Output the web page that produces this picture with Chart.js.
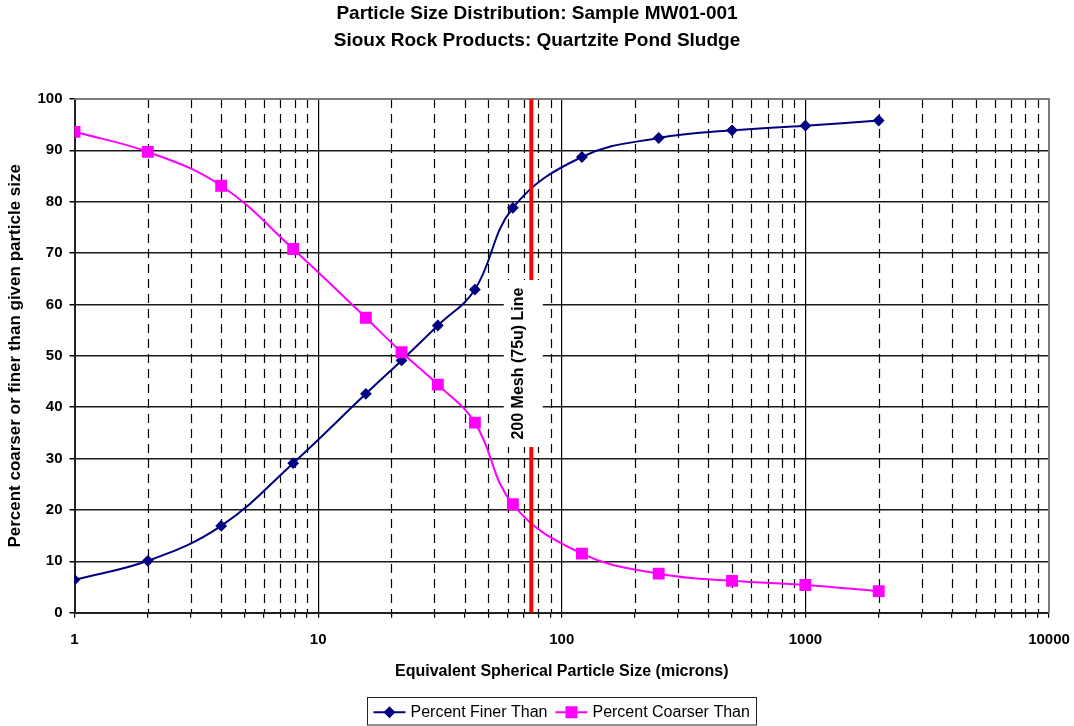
<!DOCTYPE html>
<html>
<head>
<meta charset="utf-8">
<script src="https://cdn.jsdelivr.net/npm/chart.js@4.4.1/dist/chart.umd.min.js"></script>
<style>
  html, body { margin: 0; padding: 0; background: #fff; }
  #wrap { width: 1074px; height: 726px; }
</style>
</head>
<body>
<div id="wrap"><canvas id="c" width="1074" height="726"></canvas></div>
<script>
// Sedigraph / sieve results for sample MW01-001
const titleLines = [
  'Particle Size Distribution: Sample MW01-001',
  'Sioux Rock Products: Quartzite Pond Sludge'
];
const particleSizes  = [1, 2, 4, 7.9, 15.7, 22, 31, 44, 63, 121, 250, 500, 1000, 2000];
const percentFiner   = [6.4, 10.1, 16.9, 29.1, 42.6, 49.1, 55.9, 62.9, 78.8, 88.7, 92.4, 93.9, 94.8, 95.8];
const percentCoarser = [93.6, 89.7, 83.1, 70.8, 57.4, 50.7, 44.4, 37.0, 21.1, 11.5, 7.6, 6.2, 5.4, 4.2];
const seriesNames = ['Percent Finer Than', 'Percent Coarser Than'];

// 200 mesh reference line
const meshSize = 75;
const meshRange = [0, 100];
const meshLabel = '200 Mesh (75u) Line';

// axes
const xTickLabels = ['1', '10', '100', '1000', '10000'];
const decadeTicks = xTickLabels.map(Number);
const yRange = [0, 100];
const yStep = 10;
const xTitle = 'Equivalent Spherical Particle Size (microns)';
const yTitle = 'Percent coarser or finer than given particle size';

const FONT = "'Liberation Sans', Arial, sans-serif";

// every 1..9 multiple inside each decade, plus the closing decade
const logGridValues = [];
for (let d = 0; d < decadeTicks.length - 1; d++) {
  for (let m = 1; m <= 9; m++) logGridValues.push(decadeTicks[d] * m);
}
logGridValues.push(decadeTicks[decadeTicks.length - 1]);

const toPoints = (ys) => particleSizes.map((s, i) => ({ x: s, y: ys[i] }));

const plotDecor = {
  id: 'plotDecor',
  beforeDatasetsDraw(chart) {
    const { ctx, chartArea: a, scales: { x } } = chart;
    ctx.save();
    // dashed minor verticals
    ctx.strokeStyle = '#000';
    ctx.lineWidth = 1.2;
    ctx.setLineDash([9, 6]);
    x.ticks.forEach(t => {
      if (decadeTicks.includes(t.value)) return;
      const px = Math.round(x.getPixelForValue(t.value)) + 0.5;
      ctx.beginPath();
      ctx.moveTo(px, a.top);
      ctx.lineTo(px, a.bottom);
      ctx.stroke();
    });
    ctx.setLineDash([]);
    // grey top and right frame
    ctx.strokeStyle = '#7a7a7a';
    ctx.lineWidth = 2;
    ctx.beginPath();
    ctx.moveTo(a.left, a.top);
    ctx.lineTo(a.right, a.top);
    ctx.lineTo(a.right, a.bottom);
    ctx.stroke();
    ctx.restore();
  },
  afterDatasetsDraw(chart) {
    const { ctx, scales: { x, y } } = chart;
    const px = x.getPixelForValue(meshSize);
    const cy = y.getPixelForValue(48.5);
    ctx.save();
    ctx.font = `bold 16px ${FONT}`;
    const w = ctx.measureText(meshLabel).width;
    const boxH = w + 15;
    ctx.fillStyle = '#fff';
    ctx.fillRect(px - 27.5, cy - boxH / 2, 39, boxH);
    ctx.translate(px - 12.5, cy);
    ctx.rotate(-Math.PI / 2);
    ctx.fillStyle = '#000';
    ctx.textAlign = 'center';
    ctx.textBaseline = 'middle';
    ctx.fillText(meshLabel, 0, 0);
    ctx.restore();
  },
  afterDraw(chart) {
    const { ctx, chartArea: a } = chart;
    const ds = chart.data.datasets.filter(d => d.inLegend);
    ctx.save();
    ctx.font = `16px ${FONT}`;
    const widths = ds.map(d => ctx.measureText(d.label).width);
    const lineLen = 32, padL = 6, padR = 7, gapText = 5, gapItem = 8;
    let total = padL + padR;
    widths.forEach((w, i) => { total += lineLen + gapText + w + (i ? gapItem : 0); });
    const cx = (a.left + a.right) / 2;
    const top = 697.5, h = 27.5;
    let xx = Math.round(cx - total / 2) + 0.5;
    ctx.fillStyle = '#fff';
    ctx.fillRect(xx, top, total, h);
    ctx.strokeStyle = '#222';
    ctx.lineWidth = 1;
    ctx.strokeRect(xx, top, Math.round(total), h);
    const my = top + h / 2 + 1;
    xx += padL;
    ds.forEach((d, i) => {
      if (i) xx += gapItem;
      ctx.strokeStyle = d.borderColor;
      ctx.lineWidth = d.borderWidth;
      ctx.beginPath();
      ctx.moveTo(xx, my);
      ctx.lineTo(xx + lineLen, my);
      ctx.stroke();
      ctx.fillStyle = d.pointBackgroundColor;
      ctx.strokeStyle = d.pointBorderColor;
      Chart.helpers.drawPoint(ctx, {
        pointStyle: d.pointStyle, radius: d.pointRadius, rotation: 0, borderWidth: 1
      }, xx + lineLen / 2, my);
      xx += lineLen + gapText;
      ctx.fillStyle = '#000';
      ctx.textAlign = 'left';
      ctx.textBaseline = 'middle';
      ctx.fillText(d.label, xx, my);
      xx += widths[i];
    });
    ctx.restore();
  }
};

new Chart(document.getElementById('c'), {
  type: 'scatter',
  data: {
    datasets: [
      {
        label: seriesNames[0],
        inLegend: true,
        data: toPoints(percentFiner),
        showLine: true,
        tension: 0.4,
        borderColor: '#000080',
        borderWidth: 2,
        pointStyle: 'rectRot',
        pointRadius: 4.5,
        pointBackgroundColor: '#000080',
        pointBorderColor: '#000080',
        order: 2
      },
      {
        label: seriesNames[1],
        inLegend: true,
        data: toPoints(percentCoarser),
        showLine: true,
        tension: 0.4,
        borderColor: '#ff00ff',
        borderWidth: 2,
        pointStyle: 'rect',
        pointRadius: 7,
        pointBackgroundColor: '#ff00ff',
        pointBorderColor: '#ff00ff',
        order: 1
      },
      {
        label: meshLabel,
        inLegend: false,
        data: meshRange.map(v => ({ x: meshSize, y: v })),
        showLine: true,
        borderColor: '#ff0000',
        borderWidth: 4,
        pointRadius: 0,
        order: 0
      }
    ]
  },
  options: {
    responsive: false,
    animation: false,
    layout: { padding: { left: 0, right: 0, top: 0, bottom: 40 } },
    plugins: {
      legend: { display: false },
      tooltip: { enabled: false },
      title: {
        display: true,
        text: titleLines,
        color: '#000',
        font: { family: FONT, size: 19, weight: 'bold', lineHeight: 1.42 },
        padding: { top: 0, bottom: 45 }
      }
    },
    scales: {
      x: {
        type: 'logarithmic',
        min: decadeTicks[0],
        max: decadeTicks[decadeTicks.length - 1],
        afterBuildTicks: (s) => {
          s.ticks = logGridValues.map(v => ({ value: v, major: decadeTicks.includes(v) }));
        },
        afterFit: (s) => {
          s.height = 73.3;
          s.paddingLeft = 0;
          s.paddingRight = 25;
        },
        ticks: {
          autoSkip: false,
          maxRotation: 0,
          minRotation: 0,
          padding: 13,
          color: '#000',
          font: { family: FONT, size: 15, weight: 'bold' },
          callback: (v) => {
            const i = decadeTicks.indexOf(v);
            return i >= 0 ? xTickLabels[i] : '';
          }
        },
        grid: {
          color: (c) => (c.tick && decadeTicks.includes(c.tick.value)) ? '#000' : 'rgba(0,0,0,0)',
          lineWidth: 1.2,
          tickLength: 5,
          tickColor: '#000',
          tickWidth: 1.2
        },
        border: { color: '#222', width: 2 },
        title: {
          display: true,
          text: xTitle,
          color: '#000',
          font: { family: FONT, size: 16, weight: 'bold' },
          padding: { top: 0, bottom: 4.5 }
        }
      },
      y: {
        min: yRange[0],
        max: yRange[1],
        afterFit: (s) => {
          s.width = 74.5;
          s.paddingTop = 0;
          s.paddingBottom = 0;
        },
        ticks: {
          stepSize: yStep,
          padding: 7,
          color: '#000',
          font: { family: FONT, size: 15, weight: 'bold' }
        },
        grid: {
          color: '#1a1a1a',
          lineWidth: 1.5,
          tickLength: 5,
          tickColor: '#000'
        },
        border: { color: '#222', width: 2 },
        title: {
          display: true,
          text: yTitle,
          color: '#000',
          font: { family: FONT, size: 17, weight: 'bold' },
          padding: { top: 5, bottom: 0 }
        }
      }
    }
  },
  plugins: [plotDecor]
});
</script>
</body>
</html>
